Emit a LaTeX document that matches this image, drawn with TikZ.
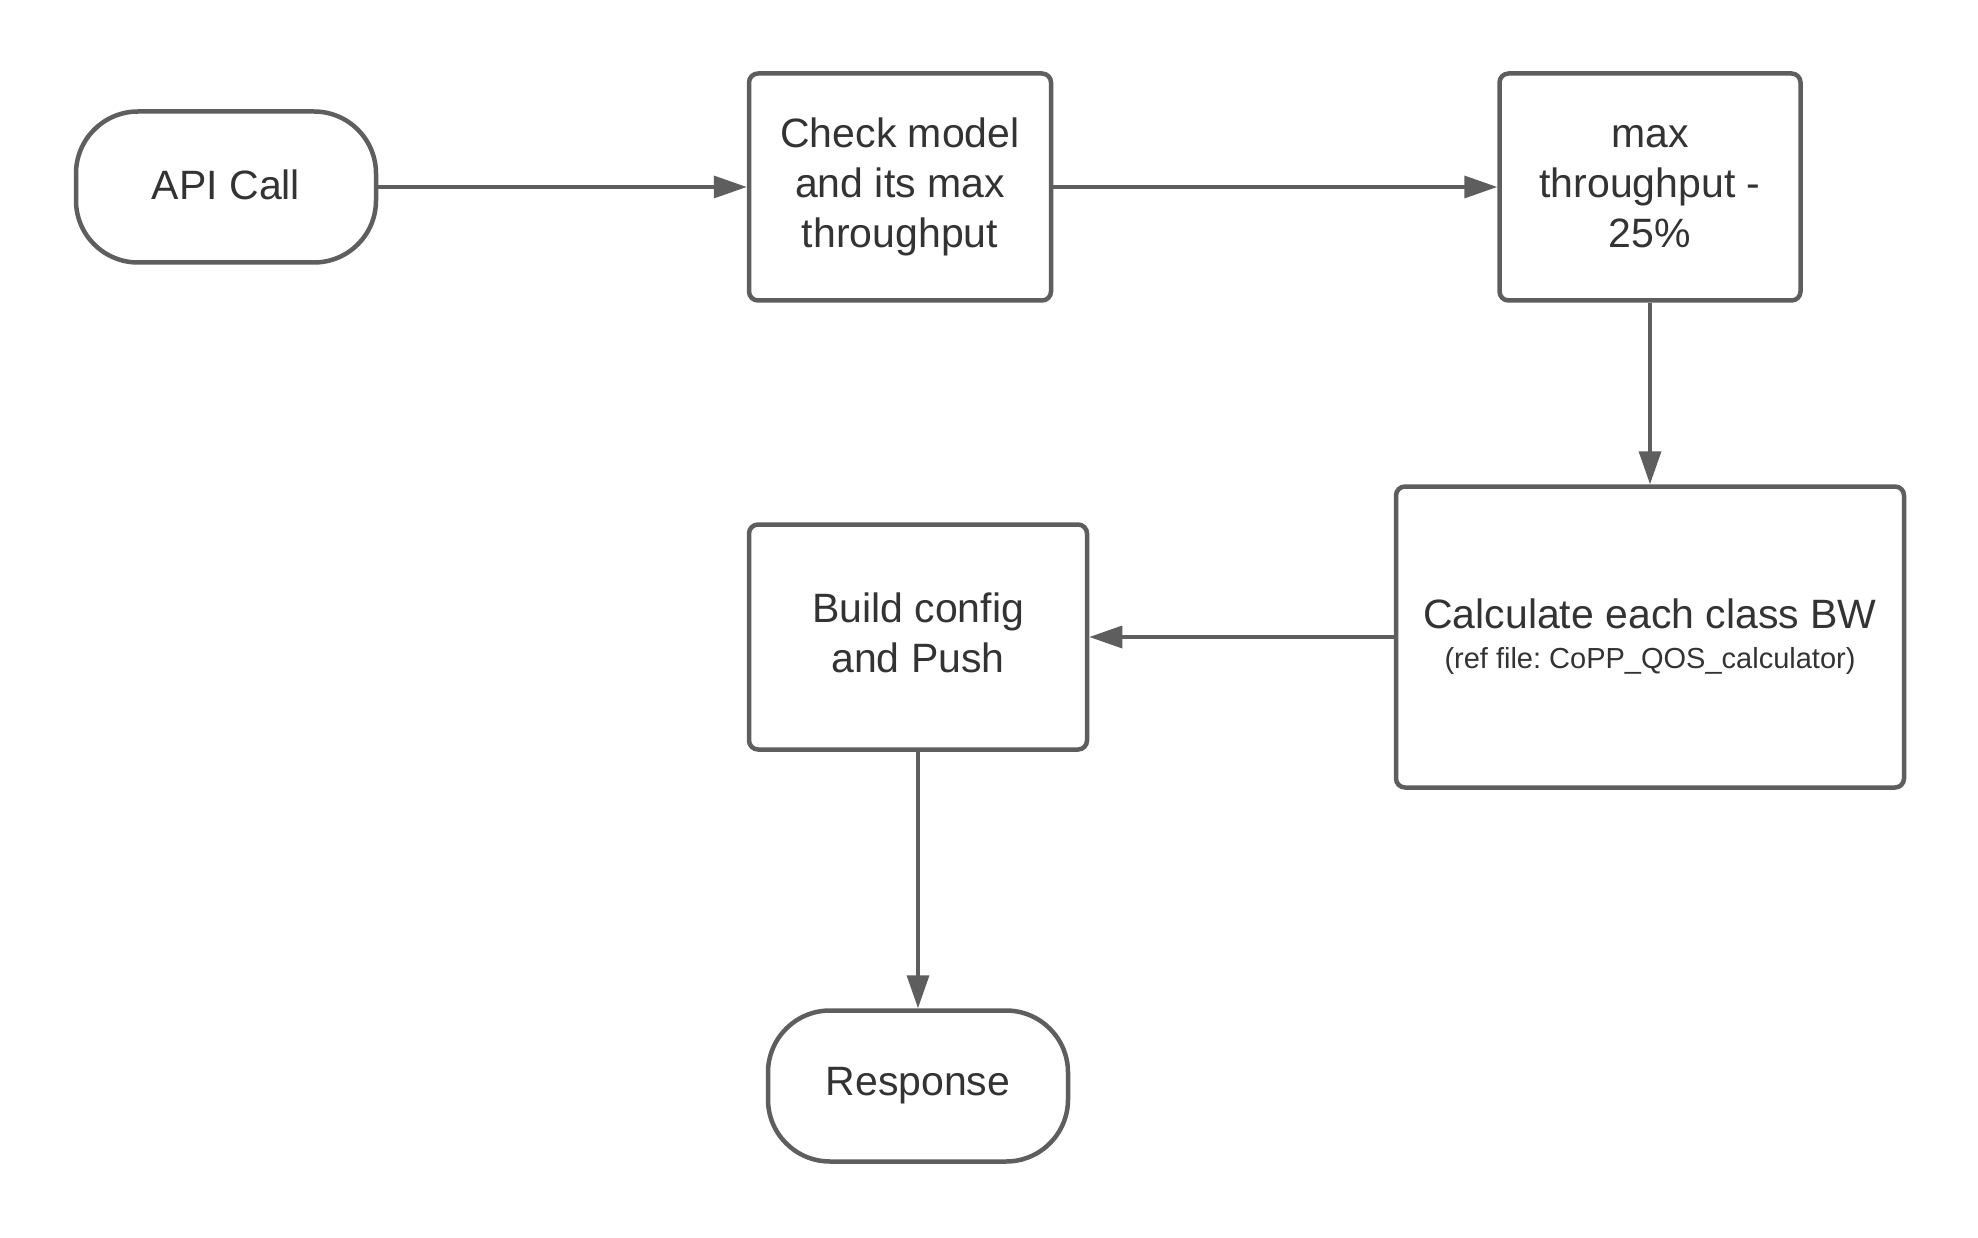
\documentclass[tikz,border=0pt]{standalone}
\usepackage{fontspec}
\setmainfont{Liberation Sans}
\usetikzlibrary{arrows.meta}
\usetikzlibrary{positioning}
\definecolor{linegray}{HTML}{5E5E5E}
\definecolor{textgray}{HTML}{333333}
\frenchspacing

\begin{document}
\begin{tikzpicture}[x=1pt, y=-1pt,
    box/.style={draw=linegray, line width=4.5pt, rounded corners=9pt, fill=white,
                inner sep=0pt, align=center, text=textgray,
                font=\fontsize{41}{50}\selectfont},
    terminal/.style={box, rounded corners=62pt},
    flow/.style={draw=linegray, line width=3.5pt,
                 -{Triangle[length=33pt, width=22pt]}}]
            \useasboundingbox (0,0) rectangle (1978,1238);

            % Start / end
            \node[terminal, minimum width=300pt, minimum height=151pt] (api) at (226,187) {\raisebox{5pt}{API Call}};
            \node[terminal, minimum width=300pt, minimum height=151pt] (resp) at (918,1086) {Response};

            % Top row
            \node[box, minimum width=302pt, minimum height=227pt] (check) at (900,187)
                {Check model\\and its max\\throughput};
            \node[box, minimum width=301pt, minimum height=227pt] (maxtp) at (1650,187)
                {max\\throughput -\\25\%};

            % Bottom row
            \node[box, minimum width=508pt, minimum height=301pt] (calc) at (1650,637)
                {Calculate each class BW\\[-10pt]{\fontsize{29}{35}\selectfont (ref file: CoPP\_QOS\_calculator)}};
            \node[box, minimum width=338pt, minimum height=225pt] (build) at (918,637)
                {\raisebox{9pt}{\begin{tabular}{@{}c@{}}Build config\\and Push\end{tabular}}};

            % Arrows
            \draw[flow] (api) -- (check);
            \draw[flow] (check) -- (maxtp);
            \draw[flow] (maxtp) -- (calc);
            \draw[flow] (calc) -- (build);
            \draw[flow] (build) -- (resp);

\end{tikzpicture}
\end{document}
